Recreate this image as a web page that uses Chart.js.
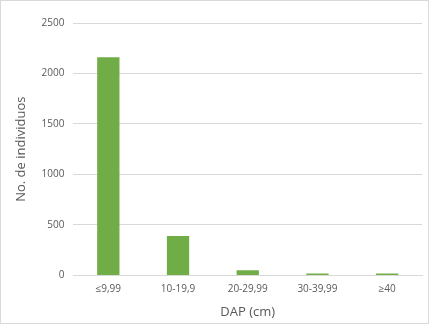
<!DOCTYPE html>
<html>
<head>
<meta charset="utf-8">
<script src="https://cdn.jsdelivr.net/npm/chart.js@4"></script>
<style>
    html, body { margin: 0; padding: 0; background: #fff; }
    #box { position: relative; width: 429px; height: 324px; box-sizing: border-box; border: 1px solid #d9d9d9; }
    #chart { position: absolute; left: 0; top: 0; }
</style>
</head>
<body>
<div id="box"><canvas id="chart" width="429" height="324"></canvas></div>
<script>
// Datos --------------------------------------------------------------------------------------------------------------
var categorias = ['≤9,99', '10-19,9', '20-29,99', '30-39,99', '≥40'];
var individuos = [2160, 390, 50, 18, 18];
var ticksY = [0, 500, 1000, 1500, 2000, 2500];

var fuente = "'Open Sans', sans-serif";
var colorTexto = '#595959';

var ctx = document.getElementById('chart').getContext('2d');
var chart = new Chart(ctx, {
    type: 'bar',
    data: {
        labels: categorias,
        datasets: [
            {
                data: individuos,
                backgroundColor: '#70ad47',
                barPercentage: 0.32,
                categoryPercentage: 1.0,
            }
        ]
    },
    options: {
        responsive: false,
        animation: false,
        layout: {
            padding: { top: 22, right: 8, bottom: 5, left: 12 }
        },
        plugins: {
            legend: { display: false },
            tooltip: { enabled: false }
        },
        scales: {
            x: {
                grid: { display: false, drawTicks: false },
                border: { display: true, color: '#d9d9d9' },
                ticks: { color: colorTexto, font: { family: fuente, size: 10 }, padding: 8 },
                title: {
                    display: true,
                    text: 'DAP (cm)',
                    color: colorTexto,
                    font: { family: fuente, size: 13 },
                    padding: { top: 1, bottom: 0 }
                }
            },
            y: {
                min: 0,
                max: ticksY[ticksY.length - 1],
                afterBuildTicks: function (axis) {
                    axis.ticks = ticksY.map(function (v) { return { value: v }; });
                },
                grid: { color: '#d9d9d9', drawTicks: false },
                border: { display: false },
                ticks: {
                    color: colorTexto,
                    font: { family: fuente, size: 10 },
                    padding: 9,
                    callback: function (v) { return String(v); }
                },
                title: {
                    display: true,
                    text: 'No. de individuos',
                    color: colorTexto,
                    font: { family: fuente, size: 13 },
                    padding: { top: 0, bottom: 4 }
                }
            }
        }
    }
});
</script>
</body>
</html>
